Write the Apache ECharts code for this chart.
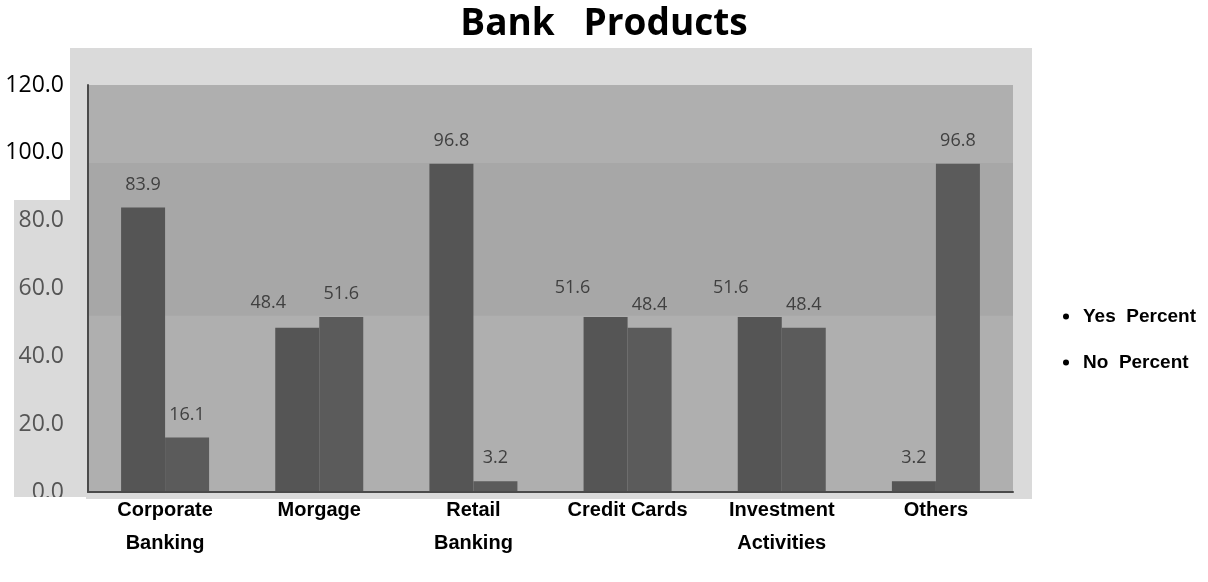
<!DOCTYPE html>
<html>
<head>
<meta charset="utf-8">
<script src="https://cdn.jsdelivr.net/npm/echarts@6/dist/echarts.min.js"></script>
<style>html,body{margin:0;padding:0;background:#fff}#c{width:1208px;height:582px}</style>
</head>
<body>
<div id="c"></div>
<script>
var categories = ['Corporate\nBanking', 'Morgage', 'Retail\nBanking', 'Credit Cards', 'Investment\nActivities', 'Others'];
var yesPercent = [83.9, 48.4, 96.8, 51.6, 51.6, 3.2];
var noPercent = [16.1, 51.6, 3.2, 48.4, 48.4, 96.8];
var seriesNames = ['Yes Percent', 'No Percent'];
var yTicks = [0, 20, 40, 60, 80, 100, 120];

// label nudges (style only)
var yesLabelShift = {1: [-29, -2], 3: [-33, -6], 4: [-29, -6]};

function buildData(vals, shifts) {
  return vals.map(function (v, i) {
    var item = {value: v};
    if (shifts && shifts[i]) item.label = {offset: shifts[i]};
    return item;
  });
}

var chart = echarts.init(document.getElementById('c'), null, {renderer: 'canvas'});
var labelStyle = {
  show: true, position: 'top', distance: 14,
  formatter: function (p) { return p.value.toFixed(1); },
  color: '#404040', fontFamily: 'Open Sans', fontSize: 18
};
chart.setOption({
  backgroundColor: '#ffffff',
  animation: false,
  title: {
    text: 'Bank   Products', left: 'center', top: 1,
    textStyle: {fontFamily: 'Open Sans', fontWeight: 'bold', fontSize: 37, color: '#000'}
  },
  graphic: [
    {type: 'rect', z: -10, shape: {x: 70, y: 48, width: 962, height: 451}, style: {fill: '#dadada'}},
    {type: 'rect', z: -10, shape: {x: 14, y: 200, width: 60, height: 299}, style: {fill: '#dadada'}},
    {type: 'rect', z: 100, shape: {x: 0, y: 497, width: 86, height: 30}, style: {fill: '#ffffff'}}
  ],
  legend: {
    orient: 'vertical', left: 1058, top: 302, itemGap: 27,
    itemWidth: 6, itemHeight: 6,
    data: [
      {name: seriesNames[0], icon: 'circle', itemStyle: {color: '#000'}},
      {name: seriesNames[1], icon: 'circle', itemStyle: {color: '#000'}}
    ],
    formatter: function (n) { return n.replace(' ', '  '); },
    textStyle: {fontFamily: 'Liberation Sans', fontWeight: 'bold', fontSize: 19, color: '#000', padding: [0, 0, 0, 9]}
  },
  grid: {
    left: 88, right: 195, top: 85, bottom: 90,
    show: true, backgroundColor: '#a7a7a7', borderWidth: 0
  },
  xAxis: {
    type: 'category', data: categories, z: 10,
    axisTick: {show: false},
    axisLine: {lineStyle: {color: '#4a4a4a', width: 2}},
    axisLabel: {
      margin: 2, interval: 0, lineHeight: 33,
      fontFamily: 'Liberation Sans', fontWeight: 'bold', fontSize: 20, color: '#000'
    }
  },
  yAxis: {
    type: 'value', min: yTicks[0], max: yTicks[yTicks.length - 1], interval: 20, z: 10,
    axisLine: {show: true, lineStyle: {color: '#4a4a4a', width: 2}},
    axisTick: {show: false},
    splitLine: {show: false},
    axisLabel: {
      margin: 24,
      formatter: function (v) { return v >= 100 ? '{b|' + v.toFixed(1) + '}' : '{g|' + v.toFixed(1) + '}'; },
      rich: {
        b: {fontFamily: 'Open Sans', fontSize: 23, color: '#000'},
        g: {fontFamily: 'Open Sans', fontSize: 23, color: '#555'}
      }
    }
  },
  series: [
    {
      name: seriesNames[0], type: 'bar', barWidth: 44, barGap: '0%',
      data: buildData(yesPercent, yesLabelShift),
      itemStyle: {color: '#555555'},
      label: labelStyle,
      markArea: {
        silent: true, z: 1,
        itemStyle: {color: '#afafaf'},
        data: [
          [{yAxis: 97}, {yAxis: 120}],
          [{yAxis: 0}, {yAxis: 52}]
        ]
      }
    },
    {
      name: seriesNames[1], type: 'bar', barWidth: 44, barGap: '0%',
      data: buildData(noPercent, null),
      itemStyle: {color: '#5b5b5b'},
      label: labelStyle
    }
  ]
});
</script>
</body>
</html>
